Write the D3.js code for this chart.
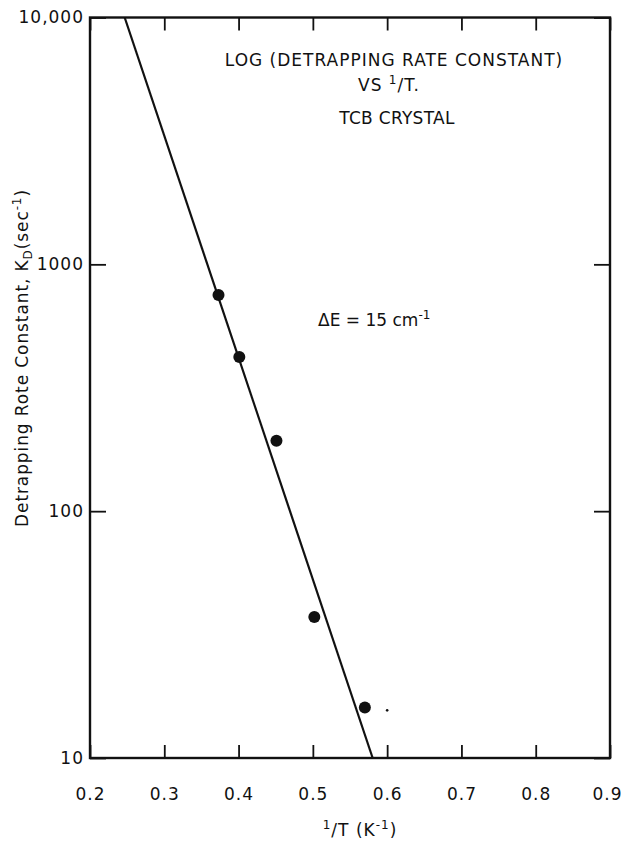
<!DOCTYPE html>
<html>
<head>
<meta charset="utf-8">
<script src="https://cdn.jsdelivr.net/npm/d3@7"></script>
<style>
  body { margin: 0; background: #fff; }
  text { font-family: "DejaVu Sans", "Liberation Sans", sans-serif; fill: #111; }
</style>
</head>
<body>
<svg id="chart" width="623" height="847"></svg>
<script>
// Axis ticks
const xTicks = [0.2, 0.3, 0.4, 0.5, 0.6, 0.7, 0.8, 0.9];
const xTickLabels = ["0.2", "0.3", "0.4", "0.5", "0.6", "0.7", "0.8", "0.9"];
const yTicks = [10, 100, 1000, 10000];
const yTickLabels = ["10", "100", "1000", "10,000"];

// Measured detrapping rate constants vs inverse temperature
const invT = [0.373, 0.401, 0.451, 0.502, 0.570];
const rateK = [752, 421, 193, 37.3, 16.0];

// Least-squares Arrhenius line (ΔE = 15 cm^-1), end points
const fitInvT = [0.2467, 0.5805];
const fitK = [10000, 10];

// Small stray speck beside the last point
const speckInvT = [0.600];
const speckK = [15.6];

const svg = d3.select("#chart");
const plotL = 90, plotR = 610, plotT = 17.5, plotB = 758;

const x = d3.scaleLinear().domain([0.2, 0.9]).range([plotL, plotR]);
const y = d3.scaleLog().domain([10, 10000]).range([plotB, plotT]);

const ink = "#111";

// Bottom axis with inward ticks and labels
const gB = svg.append("g").attr("transform", `translate(0,${plotB})`)
  .call(d3.axisBottom(x).tickValues(xTicks)
    .tickFormat((d, i) => xTickLabels[i]).tickSize(-13).tickPadding(30));
// Top axis (ticks only)
const gT = svg.append("g").attr("transform", `translate(0,${plotT})`)
  .call(d3.axisTop(x).tickValues(xTicks).tickFormat("").tickSize(-13));
// Left axis with labels
const gL = svg.append("g").attr("transform", `translate(${plotL},0)`)
  .call(d3.axisLeft(y).tickValues(yTicks)
    .tickFormat((d, i) => yTickLabels[i]).tickSize(-16).tickPadding(6));
// Right axis (ticks only)
const gR = svg.append("g").attr("transform", `translate(${plotR},0)`)
  .call(d3.axisRight(y).tickValues(yTicks).tickFormat("").tickSize(-16));

[gB, gT, gL, gR].forEach(g => {
  g.select(".domain").remove();
  g.selectAll(".tick line").attr("stroke", ink).attr("stroke-width", 1.8);
  g.selectAll(".tick text").attr("fill", ink)
    .style("font-size", "17px").style("letter-spacing", "1px")
    .style("font-family", "'DejaVu Sans', sans-serif");
});

// Keep the right-most x label inside the page edge
gB.selectAll(".tick text")
  .filter((d, i, n) => i === n.length - 1)
  .attr("text-anchor", "end").attr("x", 12);

// Plot frame
svg.append("rect")
  .attr("x", plotL).attr("y", plotT)
  .attr("width", plotR - plotL).attr("height", plotB - plotT)
  .attr("fill", "none").attr("stroke", ink).attr("stroke-width", 2.4);

// Fitted line
svg.append("path")
  .datum(fitInvT.map((v, i) => [v, fitK[i]]))
  .attr("d", d3.line().x(d => x(d[0])).y(d => y(d[1])))
  .attr("fill", "none").attr("stroke", ink).attr("stroke-width", 2.2);

// Data points
svg.append("g").selectAll("circle")
  .data(invT.map((v, i) => [v, rateK[i]]))
  .join("circle")
  .attr("cx", d => x(d[0])).attr("cy", d => y(d[1]))
  .attr("r", 6).attr("fill", ink);

svg.append("g").selectAll("circle")
  .data(speckInvT.map((v, i) => [v, speckK[i]]))
  .join("circle")
  .attr("cx", d => x(d[0])).attr("cy", d => y(d[1]))
  .attr("r", 1.3).attr("fill", ink);

// Title block
const title = svg.append("g").style("font-size", "17px").attr("text-anchor", "middle")
  .style("letter-spacing", "1px");
title.append("text").attr("x", 394).attr("y", 66)
  .text("LOG (DETRAPPING RATE CONSTANT)");
const vs = title.append("text").attr("x", 389).attr("y", 91);
vs.append("tspan").text("VS ");
vs.append("tspan").attr("dy", -7).style("font-size", "12px").text("1");
vs.append("tspan").attr("dy", 7).text("/T.");
title.append("text").attr("x", 397).attr("y", 124).style("letter-spacing", "0.3px")
  .text("TCB CRYSTAL");

// Activation energy note
const de = svg.append("text").attr("x", 318).attr("y", 326).style("font-size", "17px");
de.append("tspan").text("ΔE = 15 cm");
de.append("tspan").attr("dy", -7).style("font-size", "12px").text("-1");

// X axis title
const xl = svg.append("text").attr("x", 360).attr("y", 836)
  .attr("text-anchor", "middle").style("font-size", "17px").style("letter-spacing", "1px");
xl.append("tspan").attr("dy", -7).style("font-size", "12px").text("1");
xl.append("tspan").attr("dy", 7).text("/T (K");
xl.append("tspan").attr("dy", -7).style("font-size", "12px").text("-1");
xl.append("tspan").attr("dy", 7).text(")");

// Y axis title
const yl = svg.append("text")
  .attr("transform", "translate(28,358) rotate(-90)")
  .attr("text-anchor", "middle").style("font-size", "17px").style("letter-spacing", "0.9px");
yl.append("tspan").text("Detrapping Rote Constant, K");
yl.append("tspan").attr("dy", 4).style("font-size", "12px").text("D");
yl.append("tspan").attr("dy", -4).text("(sec");
yl.append("tspan").attr("dy", -7).style("font-size", "12px").text("-1");
yl.append("tspan").attr("dy", 7).text(")");
</script>
</body>
</html>
